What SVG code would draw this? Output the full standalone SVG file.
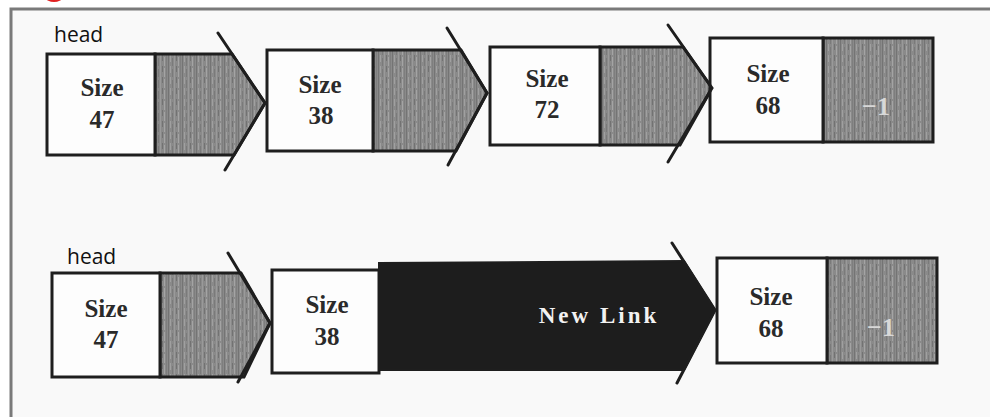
<svg xmlns="http://www.w3.org/2000/svg" width="990" height="417" viewBox="0 0 990 417">
  <defs>
    <pattern id="grain" patternUnits="userSpaceOnUse" width="14" height="11">
      <rect width="14" height="11" fill="#8a8a8a"/>
      <rect x="0" width="1" height="11" fill="#747474"/>
      <rect x="2" width="1" height="7" fill="#a0a0a0"/>
      <rect x="4" y="3" width="1" height="8" fill="#7a7a7a"/>
      <rect x="6" width="1" height="11" fill="#9a9a9a"/>
      <rect x="8" width="1" height="6" fill="#727272"/>
      <rect x="10" y="2" width="1" height="9" fill="#a4a4a4"/>
      <rect x="12" width="1" height="11" fill="#7e7e7e"/>
    </pattern>
    <style>
      .box { fill: #fdfdfd; stroke: #1e1e1e; stroke-width: 3; }
      .ptr { fill: url(#grain); stroke: #1e1e1e; stroke-width: 3; stroke-linejoin: miter; }
      .dark { fill: #1d1d1d; stroke: #1e1e1e; stroke-width: 2; }
      .chev { fill: none; stroke: #1e1e1e; stroke-width: 3; stroke-linecap: round; stroke-linejoin: miter; }
      .val { font-family: "Liberation Serif", "Times New Roman", serif; font-weight: bold; font-size: 25px; fill: #2a2a2a; text-anchor: middle; }
      .nil { font-family: "Liberation Serif", "Times New Roman", serif; font-weight: bold; font-size: 26px; fill: #d8d8d8; text-anchor: middle; }
      .head { font-family: "Open Sans", "DejaVu Sans", sans-serif; font-size: 21px; fill: #111; }
      .link { font-family: "Liberation Serif", "Times New Roman", serif; font-weight: bold; font-size: 23px; letter-spacing: 3px; fill: #f2f2f2; text-anchor: middle; }
    </style>
  </defs>

  <rect width="990" height="417" fill="#ffffff"/>
  <ellipse cx="54" cy="-2" rx="8" ry="4" fill="#e02020"/>
  <rect x="11" y="9" width="990" height="420" fill="#f9f9f9" stroke="#7a7a7a" stroke-width="3"/>

  <!-- Row 1 -->
  <text class="head" x="54" y="42">head</text>

  <g id="r1-node1">
    <polygon class="ptr" points="155,54 232,54 265,103 234,155 155,155"/>
    <rect class="box" x="47" y="54" width="108" height="101"/>
    <text class="val" x="102" y="96">Size</text>
    <text class="val" x="102" y="128">47</text>
  </g>

  <g id="r1-node2">
    <polygon class="ptr" points="373,50 461,50 487,93 456,151 373,151"/>
    <rect class="box" x="267" y="50" width="106" height="101"/>
    <text class="val" x="320" y="93">Size</text>
    <text class="val" x="321" y="124">38</text>
  </g>

  <g id="r1-node3">
    <polygon class="ptr" points="600,47 683,47 712,88 680,145 600,145"/>
    <rect class="box" x="490" y="47" width="110" height="98"/>
    <text class="val" x="547" y="87">Size</text>
    <text class="val" x="547" y="118">72</text>
  </g>

  <g id="r1-node4">
    <rect class="ptr" x="823" y="38" width="110" height="104"/>
    <rect class="box" x="710" y="38" width="113" height="104"/>
    <text class="val" x="768" y="82">Size</text>
    <text class="val" x="768" y="114">68</text>
    <text class="nil" x="876" y="115">−1</text>
  </g>

  <!-- Row 2 -->
  <text class="head" x="67" y="264">head</text>

  <g id="r2-node1">
    <polygon class="ptr" points="160,273 241,273 270,323 244,377 160,377"/>
    <rect class="box" x="52" y="273" width="108" height="104"/>
    <text class="val" x="106" y="317">Size</text>
    <text class="val" x="106" y="348">47</text>
  </g>

  <g id="r2-node2">
    <rect class="box" x="272" y="270" width="107" height="103"/>
    <text class="val" x="327" y="313">Size</text>
    <text class="val" x="327" y="345">38</text>
  </g>

  <g id="r2-node4">
    <rect class="ptr" x="827" y="258" width="110" height="105"/>
    <rect class="box" x="717" y="258" width="110" height="105"/>
    <text class="val" x="771" y="305">Size</text>
    <text class="val" x="771" y="337">68</text>
    <text class="nil" x="881" y="336">−1</text>
  </g>

  <!-- Connectors: arrowheads and the new link -->
  <g id="connectors">
    <polyline class="chev" points="218,33 265,103 225,170"/>
    <polyline class="chev" points="447,28 487,93 448,165"/>
    <polyline class="chev" points="668,25 712,88 668,162"/>
    <polyline class="chev" points="228,253 270,323 238,382"/>
    <g id="new-link">
      <polygon class="dark" points="379,263 684,261 715,310 684,370 379,370"/>
      <polyline class="chev" points="672,243 715,310 677,383"/>
      <text class="link" x="599" y="323">New Link</text>
    </g>
  </g>
</svg>
